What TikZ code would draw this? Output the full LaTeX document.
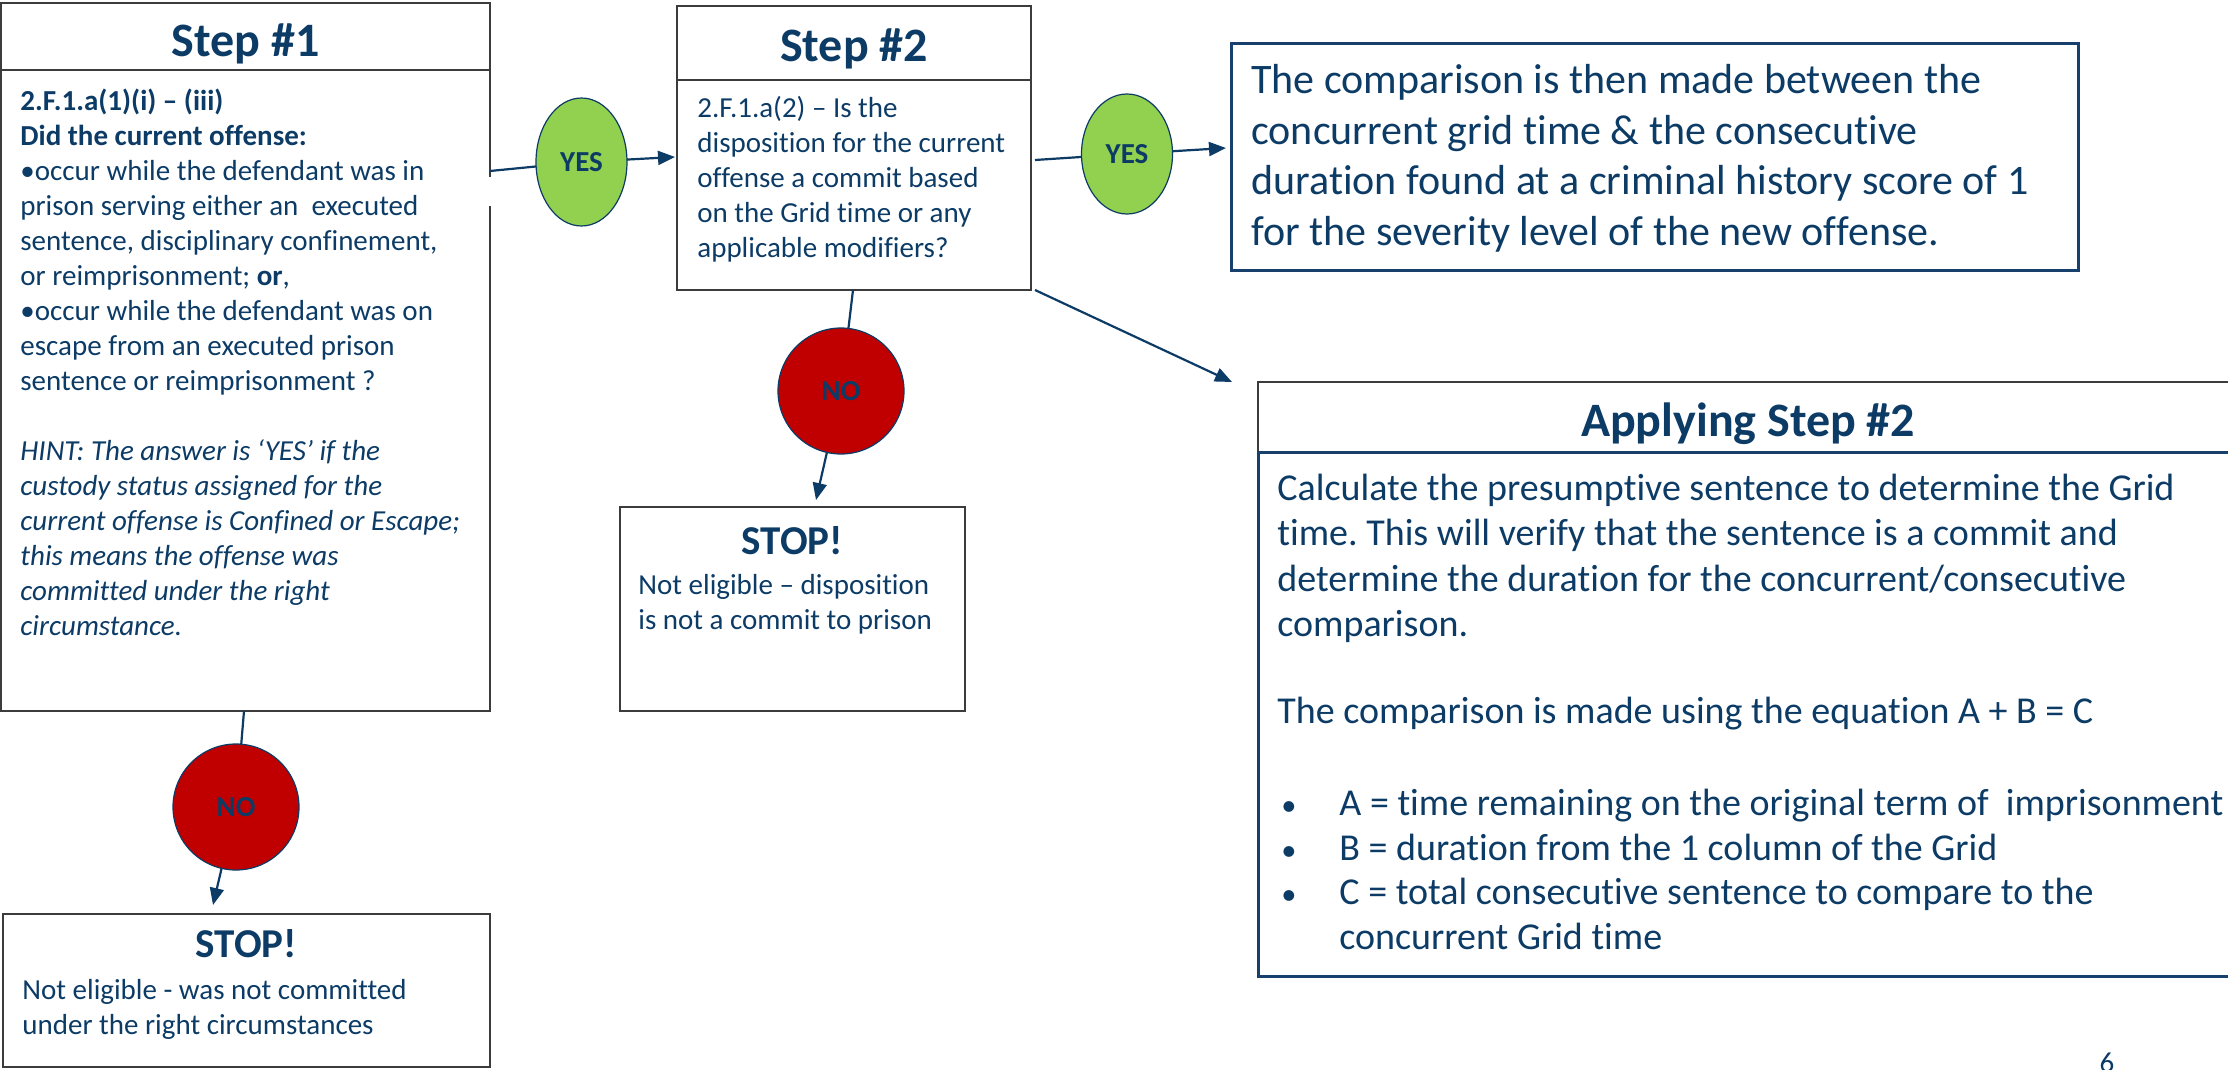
\documentclass[tikz,border=0pt]{standalone}
\usepackage{fontspec}
\setmainfont{Carlito}[Ligatures={NoCommon,NoContextual}]
\usetikzlibrary{shapes.geometric,arrows.meta,calc}
\definecolor{tblue}{HTML}{0C3B66}
\definecolor{lblue}{HTML}{17406D}
\definecolor{ygreen}{HTML}{92D050}
\definecolor{nred}{HTML}{C00000}
\definecolor{gborder}{HTML}{3C3C3C}
\frenchspacing
\begin{document}
\begin{tikzpicture}[x=0.5pt,y=-0.5pt,
  boxg/.style={draw=gborder, line width=1pt, inner sep=0pt, outer sep=0pt},
  boxb/.style={draw=lblue, line width=1.5pt, inner sep=0pt, outer sep=0pt},
  ttl/.style={font=\fontsize{24}{29}\selectfont\bfseries, text=tblue, inner sep=0pt, anchor=base},
  stopttl/.style={font=\fontsize{20.5}{25}\selectfont\bfseries, text=tblue, inner sep=0pt, anchor=base},
  bodytxt/.style={font=\fontsize{14.5}{17.5}\selectfont, text=tblue, inner sep=0pt, align=left, anchor=north west},
  bigtxt/.style={font=\fontsize{21}{25.35}\selectfont, text=tblue, inner sep=0pt, align=left, anchor=north west},
  midtxt/.style={font=\fontsize{19}{22.75}\selectfont, text=tblue, inner sep=0pt, align=left, anchor=north west},
  bultxt/.style={font=\fontsize{19}{22.25}\selectfont, text=tblue, inner sep=0pt, align=left, anchor=north west},
  conn/.style={draw=tblue, line width=1.1pt},
  arr/.style={conn, -{Triangle[length=8.5pt,width=7pt]}},
  yesnode/.style={ellipse, draw=tblue, line width=0.6pt, fill=ygreen, minimum width=45.5pt, minimum height=64pt, inner sep=0pt, outer sep=0pt, font=\fontsize{14.5}{17}\selectfont\bfseries, text=tblue},
  nonode/.style={circle, draw=tblue, line width=0.6pt, fill=nred, minimum size=63pt, inner sep=0pt, outer sep=0pt, font=\fontsize{14.5}{17}\selectfont\bfseries, text=tblue}
]
\useasboundingbox (0,0) rectangle (2228,1070);

% boxes
\node[boxg, minimum width=244.5pt, minimum height=354pt] (s1) at (245.5,357) {};
\draw[gborder, line width=1pt] ($(s1.north west)+(0,67)$) -- ($(s1.north east)+(0,67)$);
\fill[white] (485,177) rectangle (496,206);

\node[boxg, minimum width=177pt, minimum height=142pt] (s2) at (854,148) {};
\draw[gborder, line width=1pt] ($(s2.north west)+(0,74)$) -- ($(s2.north east)+(0,74)$);

\node[boxb, minimum width=423.5pt, minimum height=113pt] (tr) at (1654.5,157) {};

\node[boxg, minimum width=172.5pt, minimum height=102pt] (st2) at (792.5,609) {};
\node[boxg, minimum width=243.5pt, minimum height=76.5pt] (st1) at (246.5,990.5) {};

\node[boxg, minimum width=490pt, minimum height=297pt] (ap) at (1748,679) {};
\draw[lblue, line width=1.5pt] ($(ap.north west)+(0,70)$) rectangle (ap.south east);

% decision nodes
\node[yesnode] (yes1) at (581.5,162) {YES};
\node[yesnode, minimum height=60pt] (yes2) at (1127,154) {\raisebox{-1.5pt}{YES}};
\node[nonode] (no1) at (841,391) {NO};
\node[nonode] (no2) at (236,807) {NO};

% connectors
\draw[conn] ($(s1.north east)+(0,168)$) -- (yes1);
\draw[arr] (yes1) -- ($(s2.north west)+(-2,151)$);
\draw[conn] ($(s2.north east)+(4,154)$) -- (yes2);
\draw[arr] (yes2) -- ($(tr.north west)+(-5,104)$);
\draw[conn] ($(s2.south west)+(176,0)$) -- (no1);
\draw[arr] (no1) -- ($(st2.north west)+(196,-7)$);
\draw[arr] ($(s2.south east)+(4,0)$) -- ($(ap.north west)+(-26,0)$);
\draw[conn] ($(s1.south west)+(243,0)$) -- (no2);
\draw[arr] (no2) -- ($(st1.north west)+(210,-9)$);

% titles
\node[ttl] (t1) at (245.5,57) {Step \#1};
\node[ttl] (t2) at (854,62) {Step \#2};
\node[ttl] (t3) at (1748,436) {Applying Step \#2};
\node[stopttl] (t4) at (792.5,554) {STOP!};
\node[stopttl] (t5) at (246.5,957) {STOP!};

% texts
\node[bodytxt] (b1) at (20,85.5) {\strut\textbf{2.F.1.a(1)(i) – (iii)}\\
\textbf{Did the current offense:}\\
•occur while the defendant was in\\
prison serving either an\ \ executed\\
sentence, disciplinary confinement,\\
or reimprisonment; \textbf{or},\\
•occur while the defendant was on\\
escape from an executed prison\\
sentence or reimprisonment ?\\[17.5pt]
\textit{HINT: The answer is ‘YES’ if the}\\
\textit{custody status assigned for the}\\
\textit{current offense is Confined or Escape;}\\
\textit{this means the offense was}\\
\textit{committed under the right}\\
\textit{circumstance.}};

\node[bodytxt] (b2) at (697,92.5) {\strut 2.F.1.a(2) – Is the\\
disposition for the current\\
offense a commit based\\
on the Grid time or any\\
applicable modifiers?};

\node[bigtxt] (b3) at (1251,57.5) {\strut The comparison is then made between the\\
concurrent grid time \& the consecutive\\
duration found at a criminal history score of 1\\
for the severity level of the new offense.};

\node[bodytxt] (b4) at (638,569.5) {\strut Not eligible – disposition\\
is not a commit to prison};

\node[bodytxt] (b5) at (22,974.5) {\strut Not eligible - was not committed\\
under the right circumstances};

\node[midtxt] (b6) at (1277,468) {\strut Calculate the presumptive sentence to determine the Grid\\
time. This will verify that the sentence is a commit and\\
determine the duration for the concurrent/consecutive\\
comparison.};

\node[midtxt] (b7) at (1277,691) {\strut The comparison is made using the equation A + B = C};

\node[bultxt] (b8) at (1281,784) {\strut\makebox[29pt][l]{\scalebox{0.8}{•}}A = time remaining on the original term of\ \ imprisonment\\
\makebox[29pt][l]{\scalebox{0.8}{•}}B = duration from the 1 column of the Grid\\
\makebox[29pt][l]{\scalebox{0.8}{•}}C = total consecutive sentence to compare to the\\
\hspace*{29pt}concurrent Grid time};

\node[font=\fontsize{14.5}{17}\selectfont, text=tblue, inner sep=0pt, anchor=north] (pg) at (2107,1053) {6};
\end{tikzpicture}
\end{document}
